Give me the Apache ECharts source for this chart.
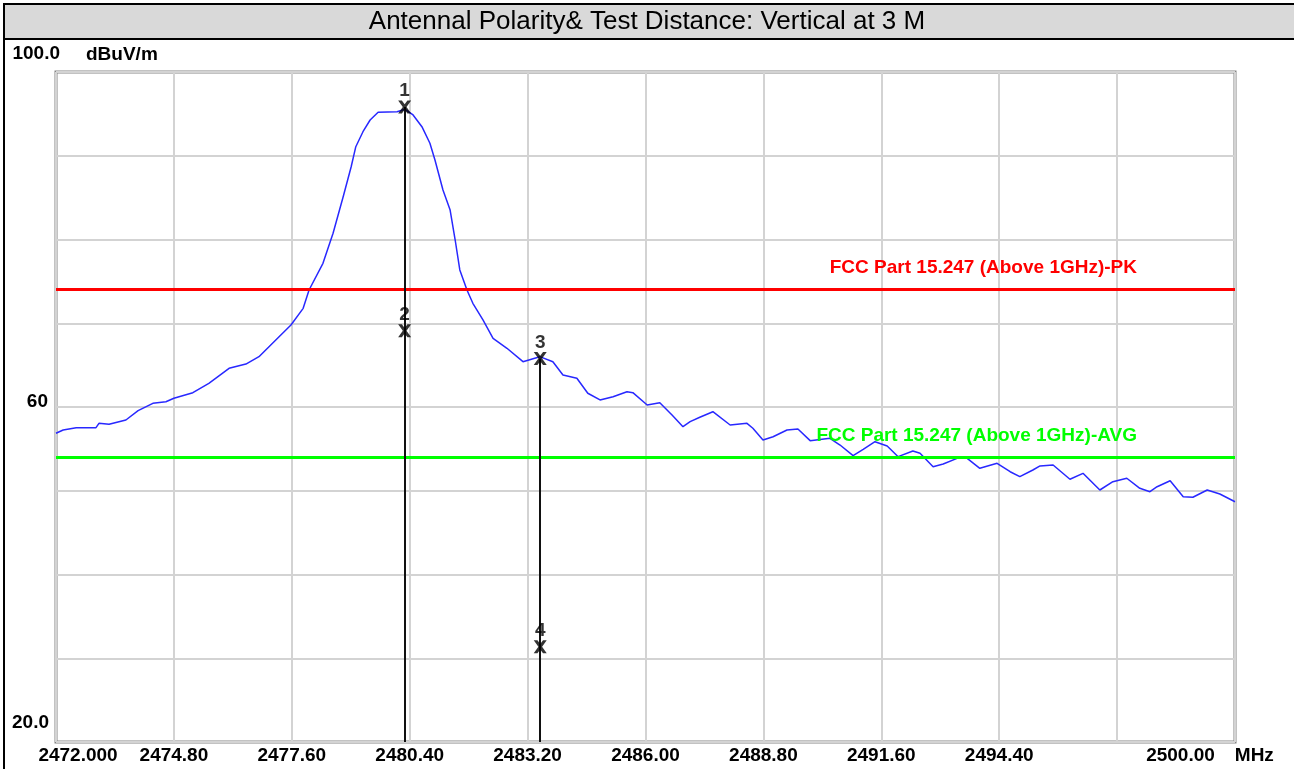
<!DOCTYPE html>
<html lang="en">
<head>
<meta charset="UTF-8">
<title>Antennal Polarity & Test Distance: Vertical at 3 M</title>
<script src="https://cdn.jsdelivr.net/npm/echarts@6/dist/echarts.min.js"></script>
<style>
    html, body { margin: 0; padding: 0; background: #fff; }
    #chart { width: 1294px; height: 769px; }
</style>
</head>
<body>
<div id="chart"></div>
<script>
// x axis runs as offset from the start frequency, so the 2.8 MHz ticks start at 0
var startFreq = 2472;
var stepFreq = 2.8;

// measured trace (MHz, dBuV/m)
var freqs = [
    2472.00, 2472.17, 2472.48, 2472.95, 2473.02, 2473.26, 2473.66, 2473.95, 2474.30, 2474.61,
    2474.80, 2475.25, 2475.63, 2476.11, 2476.51, 2476.82, 2477.22, 2477.58, 2477.87, 2478.01,
    2478.34, 2478.58, 2478.82, 2479.01, 2479.12, 2479.29, 2479.46, 2479.65, 2480.10, 2480.29,
    2480.48, 2480.69, 2480.88, 2481.00, 2481.19, 2481.36, 2481.48, 2481.59, 2481.76, 2481.90,
    2482.14, 2482.38, 2482.71, 2483.09, 2483.49, 2483.80, 2484.04, 2484.37, 2484.63, 2484.92,
    2485.23, 2485.56, 2485.70, 2486.04, 2486.34, 2486.63, 2486.89, 2487.06, 2487.29, 2487.60,
    2488.01, 2488.41, 2488.55, 2488.79, 2489.03, 2489.36, 2489.62, 2489.91, 2490.38, 2490.62,
    2490.93, 2491.17, 2491.45, 2491.74, 2492.00, 2492.35, 2492.52, 2492.83, 2493.07, 2493.40,
    2493.64, 2493.94, 2494.35, 2494.66, 2494.89, 2495.20, 2495.37, 2495.68, 2496.08, 2496.39,
    2496.79, 2497.10, 2497.43, 2497.74, 2497.98, 2498.15, 2498.46, 2498.77, 2499.00, 2499.34,
    2499.64, 2500.00
];
var levels = [
    56.86, 57.25, 57.53, 57.53, 58.05, 57.93, 58.45, 59.56, 60.44, 60.63,
    61.04, 61.71, 62.83, 64.62, 65.13, 66.01, 68.00, 69.79, 71.78, 73.97,
    77.16, 80.74, 85.11, 88.69, 91.08, 92.87, 94.27, 95.19, 95.26, 95.55,
    94.87, 93.47, 91.49, 89.49, 85.91, 83.52, 79.94, 76.36, 73.97, 72.38,
    70.39, 68.20, 67.01, 65.41, 66.01, 65.41, 63.82, 63.43, 61.64, 60.84,
    61.23, 61.83, 61.71, 60.24, 60.51, 59.04, 57.65, 58.25, 58.77, 59.44,
    57.85, 58.05, 57.46, 56.06, 56.45, 57.25, 57.37, 55.98, 56.26, 55.46,
    54.19, 54.95, 55.86, 55.34, 54.07, 54.75, 54.47, 52.87, 53.19, 53.87,
    53.87, 52.68, 53.28, 52.27, 51.68, 52.48, 52.96, 53.07, 51.37, 52.08,
    50.09, 51.08, 51.49, 50.29, 49.89, 50.48, 51.20, 49.29, 49.22, 50.09,
    49.61, 48.69
];

var xTickLabels = ['2472.000', '2474.80', '2477.60', '2480.40', '2483.20', '2486.00',
                   '2488.80', '2491.60', '2494.40', '', '2500.00'];
var xUnit = 'MHz';
var yTickValues = [100, 60, 20];
var yTickLabels = ['100.0', '60', '20.0'];
var yUnit = 'dBuV/m';

var markerNames = ['1', '2', '3', '4'];
var markerFreqs = [2480.28, 2480.28, 2483.50, 2483.50];
var markerLevels = [95.82, 69.11, 65.79, 31.38];

var limitNames = ['FCC Part 15.247 (Above 1GHz)-PK', 'FCC Part 15.247 (Above 1GHz)-AVG'];
var limitLevels = [74, 54];
var limitColors = ['#ff0000', '#00ff00'];

var titleText = 'Antennal Polarity& Test Distance: Vertical at 3 M';

var labelFont = 'Liberation Sans';

var trace = [];
for (var i = 0; i < freqs.length; i++) {
    trace.push([freqs[i] - startFreq, levels[i]]);
}

var markers = [];
for (i = 0; i < markerNames.length; i++) {
    markers.push({ name: markerNames[i], value: [markerFreqs[i] - startFreq, markerLevels[i]] });
}
// one drop line per marker frequency, from the top marker down to the floor
var dropLines = [];
var seen = {};
for (i = 0; i < markerFreqs.length; i++) {
    if (seen[markerFreqs[i]]) continue;
    seen[markerFreqs[i]] = true;
    dropLines.push([
        { coord: [markerFreqs[i] - startFreq, markerLevels[i]] },
        { coord: [markerFreqs[i] - startFreq, 20] }
    ]);
}

var limitSeries = [];
for (i = 0; i < limitNames.length; i++) {
    limitSeries.push({
        name: limitNames[i],
        type: 'line',
        data: [],
        z: 3,
        markLine: {
            silent: true,
            symbol: ['none', 'none'],
            data: [{ yAxis: limitLevels[i] }],
            lineStyle: { color: limitColors[i], width: 3, type: 'solid' },
            label: {
                show: true,
                position: 'insideEndTop',
                formatter: limitNames[i],
                color: limitColors[i],
                fontFamily: labelFont,
                fontWeight: 'bold',
                fontSize: 19,
                distance: 12,
                padding: [0, 86, 0, 0]
            }
        }
    });
}

var myChart = echarts.init(document.getElementById('chart'));
myChart.setOption({
    animation: false,
    backgroundColor: '#fff',
    title: {
        text: titleText,
        left: 'center',
        top: 9,
        padding: 0,
        textStyle: { fontFamily: 'Liberation Sans', fontSize: 26, fontWeight: 'normal', color: '#000' }
    },
    graphic: [
        { type: 'rect', shape: { x: 4, y: 4, width: 1292, height: 34 }, style: { fill: '#d9d9d9' } },
        { type: 'line', shape: { x1: 4, y1: 39, x2: 1294, y2: 39 }, style: { stroke: '#000', lineWidth: 2 } },
        { type: 'rect', shape: { x: 4, y: 4, width: 1300, height: 800 }, style: { fill: null, stroke: '#000', lineWidth: 2 } }
    ],
    grid: {
        left: 56, right: 59, top: 72, bottom: 27,
        show: true,
        borderColor: '#858585',
        borderWidth: 3,
        outerBoundsMode: 'none'
    },
    xAxis: {
        type: 'value',
        min: 0,
        max: 28,
        interval: stepFreq,
        axisLine: { show: false },
        axisTick: { show: false },
        splitLine: { show: true, lineStyle: { color: '#d3d3d3', width: 2 } },
        axisLabel: {
            margin: 4,
            color: '#000',
            fontFamily: labelFont,
            fontWeight: 'bold',
            fontSize: 19,
            formatter: function (v) {
                var k = Math.round(v / stepFreq);
                var t = xTickLabels[k];
                if (!t) return '';
                if (k === 0) return '{first|' + t + '}';
                if (k === xTickLabels.length - 1) return t + '{unit|' + xUnit + '}';
                return t;
            },
            rich: {
                first: { fontFamily: labelFont, fontWeight: 'bold', fontSize: 19, color: '#000', padding: [0, 0, 0, 44] },
                unit: { fontFamily: labelFont, fontWeight: 'bold', fontSize: 19, color: '#000', padding: [0, 50, 0, 20] }
            }
        }
    },
    yAxis: {
        type: 'value',
        min: 20,
        max: 100,
        interval: 10,
        axisLine: { show: false },
        axisTick: { show: false },
        splitLine: { show: true, lineStyle: { color: '#d3d3d3', width: 2 } },
        name: yUnit,
        nameLocation: 'end',
        nameGap: 17,
        nameTextStyle: {
            color: '#000', fontFamily: labelFont, fontWeight: 'bold', fontSize: 19,
            align: 'left', verticalAlign: 'middle', padding: [0, 0, 0, 30]
        },
        axisLabel: {
            margin: -4,
            color: '#000',
            fontFamily: labelFont,
            fontWeight: 'bold',
            fontSize: 19,
            formatter: function (v) {
                var k = yTickValues.indexOf(v);
                if (k < 0) return '';
                return '{t' + k + '|' + yTickLabels[k] + '}';
            },
            rich: {
                t0: { fontFamily: labelFont, fontWeight: 'bold', fontSize: 19, color: '#000', padding: [0, 0, 36, 0] },
                t1: { fontFamily: labelFont, fontWeight: 'bold', fontSize: 19, color: '#000', padding: [0, 12, 10, 0] },
                t2: { fontFamily: labelFont, fontWeight: 'bold', fontSize: 19, color: '#000', padding: [0, 11, 39, 0] }
            }
        }
    },
    series: limitSeries.concat([
        {
            name: 'trace',
            type: 'line',
            data: trace,
            showSymbol: false,
            z: 4,
            lineStyle: { color: '#2828ff', width: 1.5 }
        },
        {
            name: 'markers',
            type: 'scatter',
            data: markers,
            z: 5,
            symbol: 'path://M0,0L4,0L7,4L10,0L14,0L9,7L14,14L10,14L7,10L4,14L0,14L5,7Z',
            symbolSize: 13,
            itemStyle: { color: '#000' },
            label: {
                show: true,
                position: 'top',
                distance: 0,
                formatter: '{b}',
                color: '#000',
                fontFamily: labelFont,
                fontWeight: 'bold',
                fontSize: 19
            },
            markLine: {
                silent: true,
                symbol: ['none', 'none'],
                data: dropLines,
                label: { show: false },
                lineStyle: { color: '#111', width: 2, type: 'solid' }
            }
        }
    ])
});
</script>
</body>
</html>
